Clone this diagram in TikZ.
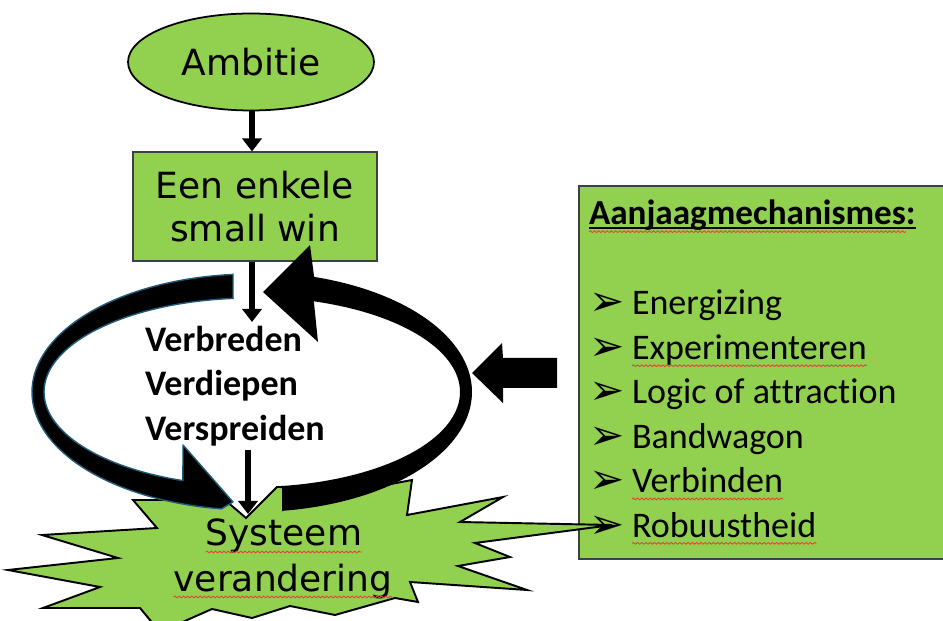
\documentclass[tikz,border=0pt]{standalone}
\usepackage{fontspec}
\setmainfont{DejaVu Sans}
\newfontfamily\calib[Ligatures=NoCommon]{Carlito}
\newfontfamily\djv{DejaVu Sans}
\usetikzlibrary{shapes.geometric,arrows.meta,decorations.pathmorphing}
\definecolor{grn}{HTML}{92D050}
\definecolor{bordergray}{HTML}{404040}
\definecolor{arcblue}{HTML}{1F5C7A}
\definecolor{wavered}{HTML}{E8403A}
\newcommand\fsz{\fontsize{20.5}{24.9}\selectfont}
\begin{document}
\begin{tikzpicture}[x=0.02cm,y=-0.02cm,
  txt/.style={inner sep=0pt, outer sep=0pt},
  verd/.style={txt, font=\fsz},
  cb/.style={txt, font=\calib\bfseries\fsz},
  cr/.style={txt, font=\calib\fsz},
  bul/.style={txt, font=\djv\fontsize{24}{28}\selectfont},
  conn/.style={line width=3.3pt, -{Triangle[width=11pt,length=7.5pt]}},
  wave/.style={wavered, line width=0.5pt, decorate, decoration={snake, segment length=2.4pt, amplitude=0.5pt}},
  arcL/.style={fill=black, draw=arcblue, line width=0.8pt, line join=round},
  burst/.style={fill=grn, draw=black, line width=1.1pt}
]
\useasboundingbox (0,0) rectangle (943,621);
\clip (0,0) rectangle (943,621);

% top shapes
\node[ellipse, draw=black, line width=1pt, fill=grn, minimum width=4.92cm, minimum height=1.94cm, inner sep=0pt, font=\fsz] (amb) at (251,62) {Ambitie};
\node[draw=bordergray, line width=0.6pt, fill=grn, minimum width=4.88cm, minimum height=2.18cm, align=center, inner sep=0pt, font=\fsz] (win) at (255,206.5) {Een enkele\\small win};
\coordinate (a1x) at (252,0);
\draw[conn] (amb.south -| a1x) -- (win.north -| a1x);

% right box
\node[draw=bordergray, fill=grn, line width=1pt, minimum width=7.64cm, minimum height=7.46cm, anchor=north west, inner sep=0pt] (box) at (578,185) {};

% explosion
\draw[burst] (133,500) -- (225,500) -- (246,518) -- (277,487) -- (370,488) -- (412,480) -- (407,515) -- (503,497) -- (460,522) -- (612,525) -- (475,543) -- (510,557) -- (458,566) -- (527,590) -- (410,582) -- (418,602) -- (395,598) -- (335,615) -- (290,606) -- (252,618) -- (212,609) -- (160,632) -- (140,608) -- (43,608) -- (100,587) -- (8,570) -- (118,558) -- (42,535) -- (157,528) -- cycle;

% left circular arrow
\filldraw[arcL] (233,298) -- (233,274)
  -- plot[domain=95:262, samples=80, variable=\t] ({252+220*cos(\t)},{392-118*sin(\t)})
  -- (233,502) -- (183,445)
  -- plot[domain=250.6:95.2, samples=80, variable=\t] ({252+208*cos(\t)},{392-94*sin(\t)})
  -- cycle;

% right circular arrow
\fill[black] (282,485) -- (282,512)
  -- plot[domain=-82.2:73.6, samples=80, variable=\t] ({252+220*cos(\t)},{392-120*sin(\t)})
  -- (310,245) -- (263,292) -- (318,342)
  -- plot[domain=72.7:-81.7, samples=80, variable=\t] ({252+208*cos(\t)},{392-95*sin(\t)})
  -- cycle;

% block arrow from box
\fill[black] (557,358) -- (503,358) -- (502,343) -- (472,373) -- (503,403) -- (503,388) -- (557,388) -- cycle;

% straight arrows
\coordinate (a2end) at (252,322);
\draw[conn] (a2end |- win.south) -- (a2end);
\coordinate (a3s) at (248,450);
\coordinate (a3e) at (248,514);
\draw[conn] (a3s) -- (a3e);

% loop texts
\node[cb, anchor=base west] (v1) at (145,352) {Verbreden};
\node[cb, anchor=base west] (v2) at (145,396) {Verdiepen};
\node[cb, anchor=base west] (v3) at (145,440) {Verspreiden};

% explosion texts
\node[verd, anchor=base] (sys1) at (284,545) {Systeem};
\node[verd, anchor=base] (sys2) at (283,591) {verandering};
\draw[wave] ([yshift=-4pt]sys1.base west) -- ([yshift=-4pt]sys1.base east);
\draw[wave] ([yshift=-3.4pt]sys2.base west) -- ([yshift=-3.4pt]sys2.base east);

% box texts
\node[txt, font=\calib\bfseries\fontsize{20}{24}\selectfont, anchor=base west] (ttl) at (589,225) {Aanjaagmechanismes};
\node[txt, font=\calib\bfseries\fontsize{20}{24}\selectfont, anchor=base west] (ttlc) at (ttl.base east) {:};
\draw[line width=1pt] ([yshift=-1.7pt]ttl.base west) -- ([yshift=-1.7pt]ttlc.base east);
\draw[wave] ([yshift=-3.8pt]ttl.base west) -- ([yshift=-3.8pt]ttl.base east);

\node[bul, anchor=base west] (b1) at (589,316) {➢};
\node[bul, anchor=base west] (b2) at (589,360.4) {➢};
\node[bul, anchor=base west] (b3) at (589,404.8) {➢};
\node[bul, anchor=base west] (b4) at (589,449.2) {➢};
\node[bul, anchor=base west] (b5) at (589,493.6) {➢};
\node[bul, anchor=base west] (b6) at (589,538) {➢};

\node[cr, anchor=base west] (i1) at (632,315) {Energizing};
\node[cr, anchor=base west] (i2) at (632,359.4) {Experimenteren};
\node[cr, anchor=base west] (i3) at (632,403.8) {Logic of at\kern0pt t\kern0pt raction};
\node[cr, anchor=base west] (i4) at (632,448.2) {Bandwagon};
\node[cr, anchor=base west] (i5) at (632,492.6) {Verbinden};
\node[cr, anchor=base west] (i6) at (632,537) {Robuustheid};
\draw[wave] ([yshift=-3.6pt]i2.base west) -- ([yshift=-3.6pt]i2.base east);
\draw[wave] ([yshift=-3.6pt]i5.base west) -- ([yshift=-3.6pt]i5.base east);
\draw[wave] ([yshift=-3.6pt]i6.base west) -- ([yshift=-3.6pt]i6.base east);
\end{tikzpicture}
\end{document}
